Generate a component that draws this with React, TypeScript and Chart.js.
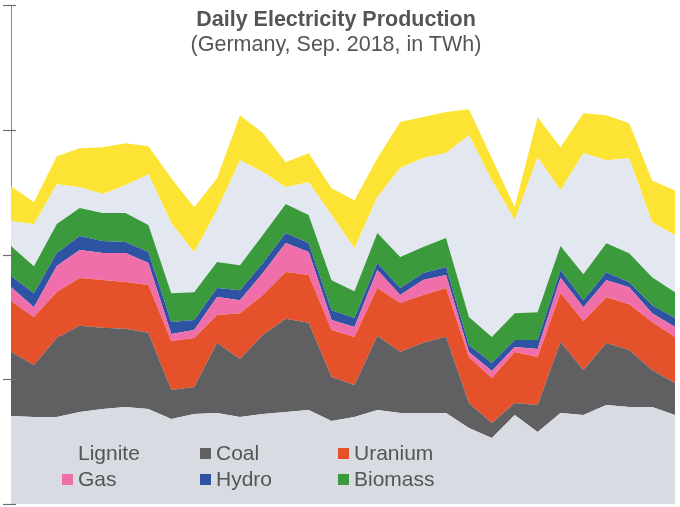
import React, { useEffect, useRef } from "react";
import { Chart, registerables } from "chart.js";

Chart.register(...registerables);

const days = Array.from({ length: 30 }, (_, i) => `Sep ${i + 1}`);

const lignite = [0.353, 0.349, 0.349, 0.369, 0.381, 0.389, 0.381, 0.341, 0.361, 0.365, 0.349, 0.361, 0.369, 0.377, 0.333, 0.349, 0.377, 0.365, 0.365, 0.365, 0.305, 0.265, 0.357, 0.289, 0.365, 0.357, 0.397, 0.389, 0.389, 0.357];
const coal = [0.257, 0.208, 0.317, 0.345, 0.325, 0.313, 0.305, 0.116, 0.108, 0.281, 0.232, 0.317, 0.373, 0.349, 0.176, 0.128, 0.297, 0.245, 0.281, 0.305, 0.1, 0.06, 0.048, 0.108, 0.285, 0.18, 0.248, 0.228, 0.148, 0.128];
const uranium = [0.204, 0.192, 0.184, 0.192, 0.192, 0.188, 0.192, 0.196, 0.196, 0.112, 0.184, 0.16, 0.188, 0.192, 0.188, 0.192, 0.192, 0.196, 0.192, 0.196, 0.184, 0.18, 0.204, 0.192, 0.196, 0.196, 0.184, 0.184, 0.192, 0.184];
const gas = [0.056, 0.04, 0.104, 0.112, 0.108, 0.116, 0.088, 0.028, 0.032, 0.072, 0.052, 0.088, 0.116, 0.092, 0.04, 0.04, 0.072, 0.032, 0.06, 0.052, 0.02, 0.028, 0.02, 0.032, 0.06, 0.056, 0.068, 0.068, 0.036, 0.04];
const hydro = [0.044, 0.056, 0.052, 0.056, 0.048, 0.044, 0.044, 0.048, 0.04, 0.036, 0.04, 0.04, 0.04, 0.036, 0.04, 0.036, 0.028, 0.028, 0.028, 0.032, 0.028, 0.032, 0.028, 0.036, 0.032, 0.028, 0.032, 0.02, 0.032, 0.036];
const biomass = [0.12, 0.108, 0.116, 0.112, 0.112, 0.116, 0.108, 0.116, 0.112, 0.104, 0.1, 0.112, 0.116, 0.112, 0.12, 0.108, 0.12, 0.124, 0.104, 0.116, 0.112, 0.104, 0.108, 0.112, 0.096, 0.104, 0.116, 0.116, 0.112, 0.104];
const wind = [0.1, 0.168, 0.16, 0.084, 0.076, 0.112, 0.204, 0.281, 0.16, 0.208, 0.421, 0.253, 0.068, 0.132, 0.261, 0.172, 0.144, 0.357, 0.357, 0.341, 0.729, 0.629, 0.373, 0.621, 0.224, 0.485, 0.333, 0.381, 0.22, 0.228];
const solar = [0.14, 0.088, 0.112, 0.156, 0.188, 0.168, 0.112, 0.18, 0.18, 0.128, 0.18, 0.156, 0.1, 0.116, 0.108, 0.192, 0.156, 0.184, 0.164, 0.164, 0.104, 0.088, 0.052, 0.16, 0.172, 0.16, 0.18, 0.14, 0.168, 0.18];

const series = [
  { label: "Lignite", data: lignite, color: "#d9dbe3" },
  { label: "Coal", data: coal, color: "#606062" },
  { label: "Uranium", data: uranium, color: "#e4512b" },
  { label: "Gas", data: gas, color: "#f06ea9" },
  { label: "Hydro", data: hydro, color: "#2f53a3" },
  { label: "Biomass", data: biomass, color: "#3a9a3c" },
  { label: "Wind", data: wind, color: "#e3e7f0" },
  { label: "Solar", data: solar, color: "#fde333" },
];

const legendCount = 6;
const textColor = "#555555";

// tick marks that cross the y axis line
const axisTicks = {
  id: "axisTicks",
  afterDraw(chart: any) {
    const { ctx, chartArea, scales } = chart;
    const y = scales.y;
    ctx.save();
    ctx.strokeStyle = "#6f6f6f";
    ctx.lineWidth = 1.2;
    y.ticks.forEach((t: any) => {
      const py = Math.round(y.getPixelForValue(t.value)) + 0.5;
      ctx.beginPath();
      ctx.moveTo(chartArea.left - 8, py);
      ctx.lineTo(chartArea.left + 5, py);
      ctx.stroke();
    });
    ctx.restore();
  },
};

// legend in three columns inside the lignite area
const innerLegend = {
  id: "innerLegend",
  afterDatasetsDraw(chart: any) {
    const { ctx } = chart;
    const cols = [62, 200, 338];
    const rows = [453, 479];
    ctx.save();
    ctx.font = "21px 'Liberation Sans', Arial, sans-serif";
    ctx.textBaseline = "middle";
    chart.data.datasets.slice(0, legendCount).forEach((ds: any, i: number) => {
      const x = cols[i % 3];
      const y = rows[Math.floor(i / 3)];
      ctx.fillStyle = ds.backgroundColor;
      ctx.fillRect(x, y - 5, 11, 11);
      ctx.fillStyle = textColor;
      ctx.fillText(ds.label, x + 16, y + 1);
    });
    ctx.restore();
  },
};

const ProductionChart = () => {
  const chartRef = useRef<HTMLCanvasElement | null>(null);

  useEffect(() => {
    if (!chartRef.current) return;
    const ctx = chartRef.current.getContext("2d");
    if (!ctx) return;

    const chart = new Chart(ctx, {
      type: "line",
      data: {
        labels: days,
        datasets: series.map((s, i) => ({
          label: s.label,
          data: s.data,
          backgroundColor: s.color,
          borderWidth: 0,
          pointRadius: 0,
          tension: 0,
          fill: i === 0 ? "origin" : "-1",
        })),
      },
      options: {
        responsive: true,
        maintainAspectRatio: false,
        animation: false,
        layout: { padding: { left: 3, right: 5, top: 5, bottom: 3 } },
        plugins: {
          legend: { display: false },
          title: { display: false },
          tooltip: { enabled: false },
        },
        scales: {
          x: {
            display: false,
            offset: false,
          },
          y: {
            stacked: true,
            min: 0,
            max: 2,
            ticks: { display: false, stepSize: 0.5 },
            grid: { display: false },
            border: { display: true, color: "#8a8a8a", width: 1 },
          },
        },
      },
      plugins: [axisTicks, innerLegend],
    });

    return () => {
      chart.destroy();
    };
  }, []);

  return <canvas ref={chartRef} />;
};

export default function App() {
  useEffect(() => {
    document.body.style.margin = "0";
  }, []);

  return (
    <div style={{ position: "relative", width: 680, height: 507, background: "#fff", fontFamily: "'Liberation Sans', Arial, sans-serif" }}>
      <ProductionChart />
      <div style={{ position: "absolute", top: 7, left: -4, width: 680, textAlign: "center", color: textColor, pointerEvents: "none" }}>
        <div style={{ fontSize: 21.5, fontWeight: "bold", lineHeight: "25px" }}>Daily Electricity Production</div>
        <div style={{ fontSize: 21.5, lineHeight: "25px" }}>(Germany, Sep. 2018, in TWh)</div>
      </div>
    </div>
  );
}
